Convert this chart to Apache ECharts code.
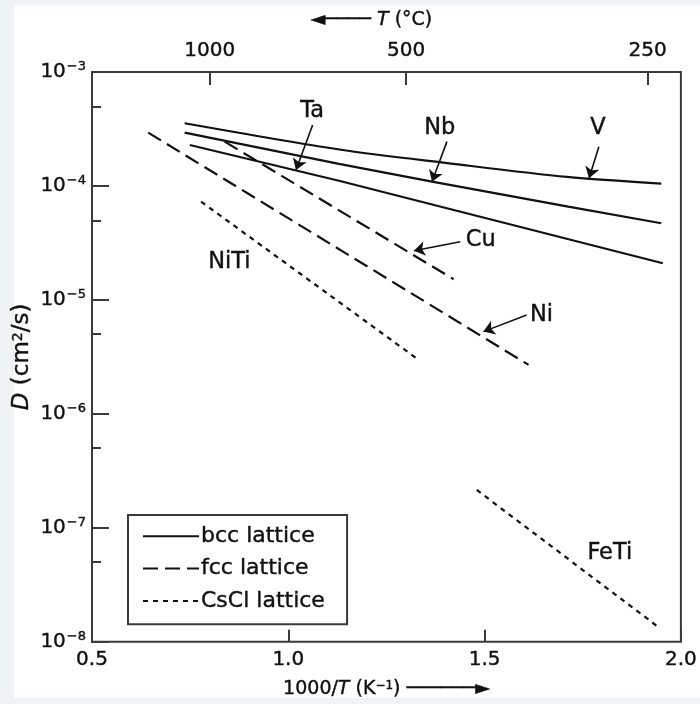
<!DOCTYPE html>
<html>
<head>
<meta charset="utf-8">
<script src="https://cdn.jsdelivr.net/npm/echarts@6/dist/echarts.min.js"></script>
<style>html,body{margin:0;padding:0;background:#fff}#c{width:700px;height:704px}</style>
</head>
<body>
<div id="c"></div>
<script>
// ---- data ----
const xTicks = [0.5, 1.0, 1.5, 2.0];
const yMinorTicks = [5e-4, 5e-5, 5e-6, 5e-7, 5e-8];
const topTickPos = [0.80, 1.30, 1.915];
const topTickLabels = ['1000', '500', '250'];

const vData  = [[0.736, 3.55e-4], [1.13, 2.09e-4], [1.41, 1.58e-4], [1.71, 1.20e-4], [1.95, 1.05e-4]];
const nbData = [[0.736, 2.94e-4], [1.129, 1.56e-4], [1.366, 1.09e-4], [1.713, 6.58e-5], [1.950, 4.71e-5]];
const taData = [[0.749, 2.29e-4], [1.129, 1.11e-4], [1.954, 2.10e-5]];
const cuData = [[0.838, 2.45e-4], [1.421, 1.52e-5]];
const niData = [[0.643, 2.94e-4], [1.612, 2.69e-6]];
const nitiData = [[0.778, 7.28e-5], [1.332, 2.98e-6]];
const fetiData = [[1.480, 2.15e-7], [1.946, 1.32e-8]];

const labelNames = ['Ta', 'Nb', 'V', 'Cu', 'Ni', 'NiTi', 'FeTi'];
const labelX = [1.061, 1.386, 1.789, 1.490, 1.645, 0.850, 1.819];
const labelD = [4.55e-4, 3.23e-4, 3.21e-4, 3.36e-5, 7.38e-6, 2.16e-5, 6.0e-8];

const arrowFrom = [[1.062, 3.43e-4], [1.404, 2.45e-4], [1.791, 2.21e-4], [1.438, 3.24e-5], [1.607, 7.38e-6]];
const arrowTo   = [[1.0195, 1.38e-4], [1.366, 1.09e-4], [1.766, 1.17e-4], [1.320, 2.70e-5], [1.497, 5.27e-6]];

const legendNames = ['bcc lattice', 'fcc lattice', 'CsCl lattice'];

// ---- chart ----
const FONT = 'DejaVu Sans';
const INK = '#111111';
const FRAME = '#3a3a3a';
const BOLDEN = {textBorderColor: INK, textBorderWidth: 0.4};
const chart = echarts.init(document.getElementById('c'), null, {renderer: 'canvas'});

function yLabel(v) {
  const e = Math.round(Math.log10(v));
  return '10{sup|' + String(e).replace('-', '−') + '}';
}

function lineSeries(name, data, type, smooth) {
  let lt = 'solid';
  if (type === 'dash') lt = [15, 7];
  if (type === 'dot') lt = [5, 5];
  return {
    type: 'line', name: name, data: data, symbol: 'none', silent: true,
    smooth: smooth || false,
    xAxisIndex: 0, yAxisIndex: 0,
    lineStyle: {color: INK, width: 2.2, type: lt},
    itemStyle: {color: INK},
    animation: false
  };
}

const option = {
  animation: false,
  backgroundColor: '#eef3f5',
  graphic: [{
    type: 'rect', left: 14, top: 5, shape: {width: 686, height: 693}, style: {fill: '#ffffff'}, z: -10, silent: true
  }],
  grid: {left: 92, right: 17, top: 72, bottom: 62, show: true, borderColor: FRAME, borderWidth: 2, backgroundColor: '#fff'},
  legend: {
    data: legendNames, orient: 'vertical', left: 128, top: 515,
    padding: [10, 22, 12, 14], borderColor: FRAME, borderWidth: 2, backgroundColor: '#fff',
    itemWidth: 56, itemHeight: 14, itemGap: 10, selectedMode: false,
    itemStyle: {opacity: 0},
    textStyle: Object.assign({fontFamily: FONT, fontSize: 22, color: INK, padding: [0, 0, 0, -3]}, BOLDEN)
  },
  xAxis: [{
    type: 'value', position: 'bottom', min: 0.5, max: 2.0, interval: 0.5,
    axisLine: {show: false},
    axisTick: {inside: true, length: 12, lineStyle: {color: FRAME, width: 2}},
    splitLine: {show: false},
    axisLabel: Object.assign({fontFamily: FONT, fontSize: 20, color: INK, margin: 8, formatter: v => v.toFixed(1)}, BOLDEN),
    name: '1000/{i|T} (K{s|−1}) ──────►', nameLocation: 'middle', nameGap: 38, nameMoveOverlap: false,
    nameTextStyle: Object.assign({fontFamily: FONT, fontSize: 19, color: INK,
      rich: {i: Object.assign({fontFamily: FONT, fontSize: 19, fontStyle: 'italic', color: INK}, BOLDEN),
             s: {fontFamily: FONT, fontSize: 12, color: INK, verticalAlign: 'top', padding: [0, 0, 6, 0]}}}, BOLDEN)
  }, {
    type: 'value', position: 'top', min: 0.5, max: 2.0,
    axisLine: {show: false},
    axisTick: {inside: true, length: 13, customValues: topTickPos, lineStyle: {color: FRAME, width: 2}},
    splitLine: {show: false},
    axisLabel: Object.assign({fontFamily: FONT, fontSize: 20, color: INK, margin: 11, customValues: topTickPos,
      formatter: v => { const i = topTickPos.findIndex(p => Math.abs(p - v) < 1e-6); return i >= 0 ? topTickLabels[i] : ''; }}, BOLDEN),
    name: '◄──── {i|T} (°C)', nameLocation: 'middle', nameGap: 42, nameMoveOverlap: false,
    nameTextStyle: Object.assign({fontFamily: FONT, fontSize: 19, color: INK, padding: [0, 30, 0, 0],
      rich: {i: Object.assign({fontFamily: FONT, fontSize: 19, fontStyle: 'italic', color: INK}, BOLDEN)}}, BOLDEN)
  }],
  yAxis: [{
    type: 'log', logBase: 10, min: 1e-8, max: 1e-3, position: 'left',
    axisLine: {show: false},
    axisTick: {inside: true, length: 17, lineStyle: {color: FRAME, width: 2}},
    splitLine: {show: false}, minorTick: {show: false},
    axisLabel: Object.assign({fontFamily: FONT, fontSize: 20, color: INK, margin: 6, formatter: yLabel,
      rich: {sup: Object.assign({fontFamily: FONT, fontSize: 13, color: INK, verticalAlign: 'top', padding: [0, 0, 10, 1]}, BOLDEN)}}, BOLDEN),
    name: '{i|D} (cm{s|2}/s)', nameLocation: 'middle', nameGap: 58, nameRotate: 90, nameMoveOverlap: false,
    nameTextStyle: Object.assign({fontFamily: FONT, fontSize: 23, color: INK,
      rich: {i: Object.assign({fontFamily: FONT, fontSize: 23, fontStyle: 'italic', color: INK}, BOLDEN),
             s: {fontFamily: FONT, fontSize: 14, color: INK, verticalAlign: 'top', padding: [0, 0, 8, 0]}}}, BOLDEN)
  }, {
    type: 'log', logBase: 10, min: 1e-8, max: 1e-3, position: 'left',
    axisLine: {show: false}, splitLine: {show: false},
    axisTick: {inside: true, length: 9, customValues: yMinorTicks, lineStyle: {color: FRAME, width: 2}},
    axisLabel: {show: false}
  }],
  series: [
    lineSeries('bcc lattice', vData, 'solid', 0.3),
    lineSeries('bcc lattice', nbData, 'solid'),
    lineSeries('bcc lattice', taData, 'solid'),
    lineSeries('fcc lattice', cuData, 'dash'),
    lineSeries('fcc lattice', niData, 'dash'),
    lineSeries('CsCl lattice', nitiData, 'dot'),
    lineSeries('CsCl lattice', fetiData, 'dot'),
    {
      type: 'lines', name: 'arrows', coordinateSystem: 'cartesian2d', xAxisIndex: 0, yAxisIndex: 0,
      silent: true, symbol: ['none', 'arrow'], symbolSize: [0, 11],
      lineStyle: {color: INK, width: 1.6, opacity: 1},
      data: arrowFrom.map((f, i) => ({coords: [f, arrowTo[i]]}))
    },
    {
      type: 'scatter', name: 'labels', xAxisIndex: 0, yAxisIndex: 0, silent: true,
      symbol: 'circle', symbolSize: 0, itemStyle: {color: INK, opacity: 1},
      label: Object.assign({show: true, position: 'inside', fontFamily: FONT, fontSize: 22.5, color: INK,
        formatter: p => labelNames[p.dataIndex]}, BOLDEN),
      data: labelX.map((x, i) => [x, labelD[i]])
    }
  ]
};
chart.setOption(option);
</script>
</body>
</html>
